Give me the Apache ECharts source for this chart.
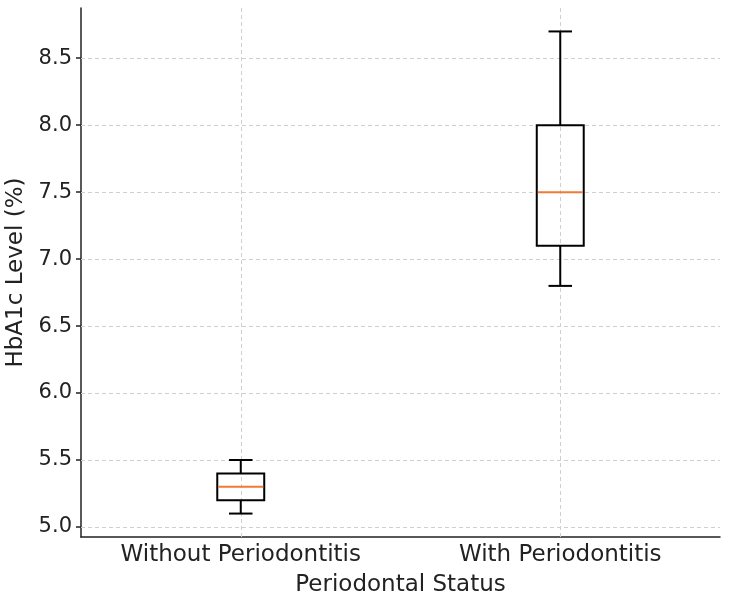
<!DOCTYPE html>
<html>
<head>
<meta charset="utf-8">
<script src="https://cdn.jsdelivr.net/npm/echarts@6/dist/echarts.min.js"></script>
<style>
  html, body { margin: 0; padding: 0; background: #fff; }
  #main { width: 750px; height: 602px; }
</style>
</head>
<body>
<div id="main"></div>
<script>
// categories and five-number summaries
var groups = ['Without Periodontitis', 'With Periodontitis'];
var whiskerLow = [5.1, 6.8];
var q1 = [5.2, 7.1];
var median = [5.3, 7.5];
var q3 = [5.4, 8.0];
var whiskerHigh = [5.5, 8.7];
var yTicks = [5.0, 5.5, 6.0, 6.5, 7.0, 7.5, 8.0, 8.5];

var boxData = groups.map(function(g, i) {
	return [i, whiskerLow[i], q1[i], median[i], q3[i], whiskerHigh[i]];
});

var textColor = '#222';
var gridStyle = { color: '#cfcfcf', width: 1, type: [4, 3] };

function renderBox(params, api) {
	var x = api.value(0);
	var band = api.size([1, 0])[0];
	var bw = band * 0.147;
	var cw = bw / 2;
	var pLow = api.coord([x, api.value(1)]);
	var pQ1 = api.coord([x, api.value(2)]);
	var pMed = api.coord([x, api.value(3)]);
	var pQ3 = api.coord([x, api.value(4)]);
	var pHigh = api.coord([x, api.value(5)]);
	var cx = pMed[0];
	var black = { stroke: '#000', lineWidth: 2, fill: null };
	return {
		type: 'group',
		children: [
			{ type: 'line', shape: { x1: cx, y1: pLow[1], x2: cx, y2: pQ1[1] }, style: black },
			{ type: 'line', shape: { x1: cx, y1: pQ3[1], x2: cx, y2: pHigh[1] }, style: black },
			{ type: 'line', shape: { x1: cx - cw / 2, y1: pLow[1], x2: cx + cw / 2, y2: pLow[1] }, style: black },
			{ type: 'line', shape: { x1: cx - cw / 2, y1: pHigh[1], x2: cx + cw / 2, y2: pHigh[1] }, style: black },
			{ type: 'rect', shape: { x: cx - bw / 2, y: pQ3[1], width: bw, height: pQ1[1] - pQ3[1] },
				style: { stroke: '#000', lineWidth: 2, fill: 'rgba(0,0,0,0)' } },
			{ type: 'line', shape: { x1: cx - bw / 2 + 1, y1: pMed[1], x2: cx + bw / 2 - 1, y2: pMed[1] },
				style: { stroke: '#f07a35', lineWidth: 2 } }
		]
	};
}

var chart = echarts.init(document.getElementById('main'));
var option = {
	animation: false,
	backgroundColor: '#fff',
	textStyle: { fontFamily: 'DejaVu Sans' },
	grid: { left: 81, right: 30, top: 8, bottom: 65, containLabel: false, outerBoundsMode: 'none' },
	xAxis: {
		type: 'category',
		data: groups,
		boundaryGap: true,
		name: 'Periodontal Status',
		nameLocation: 'middle',
		nameGap: 37,
		nameTextStyle: { fontSize: 23, color: textColor, fontFamily: 'DejaVu Sans' },
		axisLine: { lineStyle: { color: '#222', width: 1.5 } },
		axisTick: { alignWithLabel: true, length: 5, lineStyle: { color: '#222', width: 1.5 } },
		axisLabel: { fontSize: 23, color: textColor, margin: 7, fontFamily: 'DejaVu Sans' },
		splitLine: { show: false }
	},
	yAxis: {
		type: 'value',
		min: 4.925,
		max: 8.875,
		name: 'HbA1c Level (%)',
		nameLocation: 'middle',
		nameGap: 51,
		nameTextStyle: { fontSize: 23, color: textColor, fontFamily: 'DejaVu Sans' },
		axisLine: { show: true, lineStyle: { color: '#222', width: 1.5 } },
		axisTick: { show: true, length: 5, customValues: yTicks, lineStyle: { color: '#222', width: 1.5 } },
		axisLabel: {
			fontSize: 21, color: textColor, margin: 9, fontFamily: 'DejaVu Sans',
			customValues: yTicks,
			formatter: function(v) { return v.toFixed(1); }
		},
		splitLine: { show: false }
	},
	series: [
		{
			// dashed grid, drawn under the boxes
			type: 'line',
			data: [],
			z: 1,
			silent: true,
			markLine: {
				silent: true,
				symbol: 'none',
				label: { show: false },
				lineStyle: gridStyle,
				data: yTicks.map(function(v) { return { yAxis: v }; })
					.concat(groups.map(function(g) { return { xAxis: g }; }))
			}
		},
		{
			type: 'custom',
			z: 5,
			renderItem: renderBox,
			encode: { x: 0, y: [1, 2, 3, 4, 5] },
			data: boxData
		}
	]
};
chart.setOption(option);
</script>
</body>
</html>
